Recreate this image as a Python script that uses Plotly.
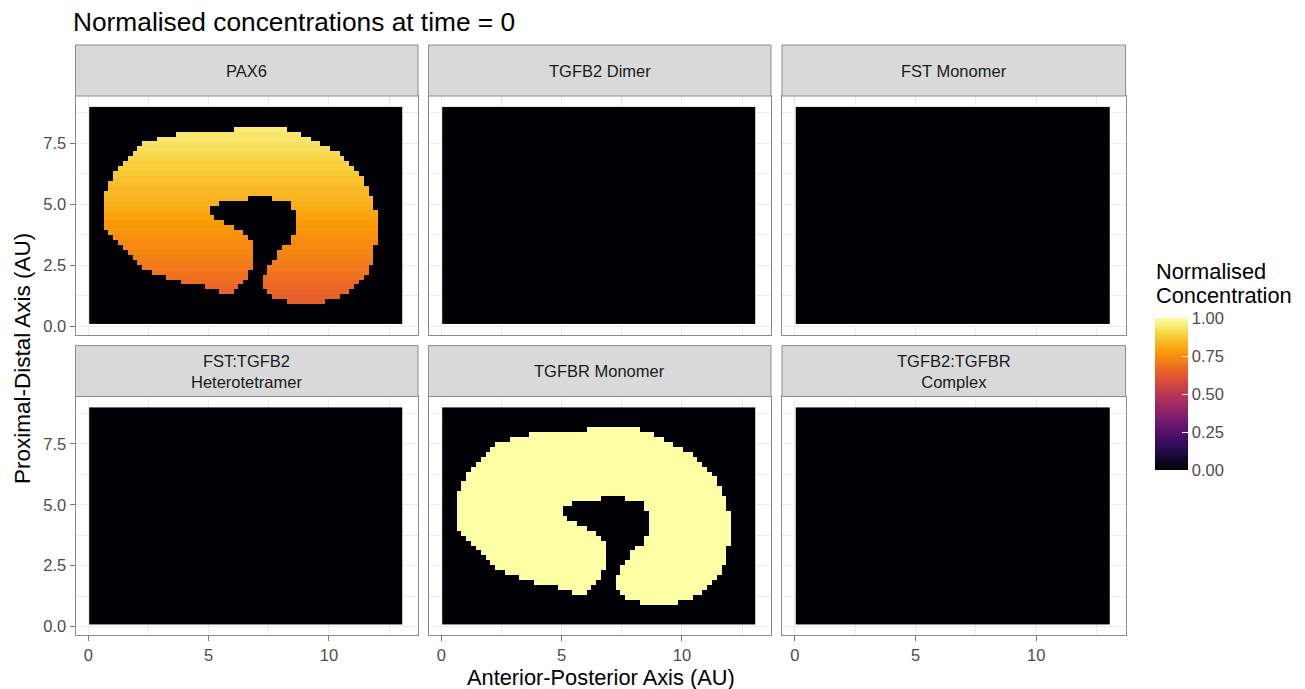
import numpy as np
import plotly.graph_objects as go
import plotly.express as px

W, H = 1305, 689

# ---------------- data ----------------
species = ["PAX6", "TGFB2 Dimer", "FST Monomer",
           "FST:TGFB2<br>Heterotetramer", "TGFBR Monomer", "TGFB2:TGFBR<br>Complex"]

# outline of the tissue domain (AU)
domain_x = [4.85, 3.40, 2.77, 2.22, 1.80, 1.32, 0.97, 0.76, 0.58, 0.58, 0.76, 1.04,
            1.46, 2.01, 2.77, 3.40, 4.02, 4.85, 5.40, 6.03, 6.44, 6.72, 6.83, 6.72,
            6.44, 6.03, 5.61, 5.20, 5.06, 5.20, 5.75, 6.44, 7.55, 8.31, 8.52, 8.63,
            8.63, 8.45, 8.10, 7.76, 7.52, 7.27, 7.25, 7.55, 7.97, 8.80, 9.35, 10.04,
            10.74, 11.29, 11.57, 11.84, 11.98, 11.98, 11.77, 11.50, 11.15, 10.74,
            10.33, 9.84, 9.22, 8.80, 8.25, 7.34, 6.10, 6.10]
domain_y = [8.04, 7.86, 7.68, 7.45, 7.04, 6.56, 6.08, 5.67, 5.26, 4.43, 3.95, 3.54,
            3.13, 2.58, 2.17, 1.96, 1.78, 1.62, 1.41, 1.41, 1.89, 2.24, 3.13, 3.54,
            3.88, 4.09, 4.22, 4.50, 4.77, 4.98, 5.12, 5.25, 5.29, 5.12, 4.77, 4.36,
            3.95, 3.54, 3.20, 2.85, 2.44, 1.96, 1.62, 1.28, 1.07, 0.86, 0.93, 1.07,
            1.34, 1.76, 2.24, 2.85, 3.54, 4.50, 5.32, 5.87, 6.35, 6.76, 7.11, 7.38,
            7.72, 7.93, 8.07, 8.23, 8.23, 8.04]

# simulation grid (AU)
grid_x0, grid_dx, grid_nx = 0.14, 0.2, 65
grid_y0, grid_dy, grid_ny = 0.2011, 0.2022, 44

pax6_by_row = [0.60, 0.61, 0.62, 0.63, 0.64, 0.64, 0.65, 0.66, 0.67, 0.68, 0.69,
               0.70, 0.71, 0.72, 0.73, 0.74, 0.74, 0.75, 0.76, 0.77, 0.78, 0.79,
               0.80, 0.81, 0.82, 0.83, 0.84, 0.84, 0.85, 0.86, 0.87, 0.88, 0.89,
               0.90, 0.91, 0.92, 0.93, 0.94, 0.94, 0.95, 0.96, 0.97, 0.98, 0.99]
# value inside the domain for the uniform species
inside_value = {"TGFB2 Dimer": 0.0, "FST Monomer": 0.0,
                "FST:TGFB2<br>Heterotetramer": 0.0, "TGFBR Monomer": 1.0,
                "TGFB2:TGFBR<br>Complex": 0.0}

x_ticks = [0, 5, 10]
y_ticks = [0.0, 2.5, 5.0, 7.5]
cbar_ticks = [0.0, 0.25, 0.50, 0.75, 1.00]

# ---------------- geometry ----------------
gx = grid_x0 + grid_dx * np.arange(grid_nx)
gy = grid_y0 + grid_dy * np.arange(grid_ny)
PX, PY = np.meshgrid(gx, gy)


def inside(px_, py_, vx, vy):
    vx = np.asarray(vx, float)
    vy = np.asarray(vy, float)
    res = np.zeros(px_.shape, bool)
    j = len(vx) - 1
    for i in range(len(vx)):
        xi, yi, xj, yj = vx[i], vy[i], vx[j], vy[j]
        if yi != yj:
            cond = ((yi > py_) != (yj > py_)) & (px_ < (xj - xi) * (py_ - yi) / (yj - yi) + xi)
            res ^= cond
        j = i
    return res


mask = inside(PX, PY, domain_x, domain_y)

# ---------------- layout helpers ----------------
cols = [(75.5, 418.0), (428.5, 771.0), (782.0, 1125.5)]
rows = [(96.0, 334.5), (396.5, 635.0)]
strips = [(45.0, 96.0), (345.5, 396.5)]
xr_ = [-0.53, 13.70]
yr_ = [-0.345, 9.445]

FONT = "Liberation Sans, Arial, Helvetica, sans-serif"
BORDER = "#8C8C8C"
GRID = "#EBEBEB"

fig = go.Figure()
shapes = []
annotations = []

for i, name in enumerate(species):
    r, c = divmod(i, 3)
    if name == "PAX6":
        z = np.where(mask, np.array(pax6_by_row)[:, None], 0.0)
    else:
        z = np.where(mask, inside_value[name], 0.0)
    fig.add_trace(go.Heatmap(z=z, x0=grid_x0, dx=grid_dx, y0=grid_y0, dy=grid_dy,
                             coloraxis="coloraxis", zsmooth=False, hoverinfo="skip",
                             xaxis=f"x{i+1}", yaxis=f"y{i+1}"))
    xl, xr = cols[c]
    pt, pb = rows[r]
    bottom = (r == 1)
    left = (c == 0)
    fig.layout[f"xaxis{i+1}"] = dict(
        domain=[xl / W, xr / W], range=xr_, anchor=f"y{i+1}",
        tickvals=x_ticks, showticklabels=bottom, ticks="outside" if bottom else "",
        ticklen=5, tickcolor="#777777", tickwidth=1,
        tickfont=dict(size=16.5, color="#4D4D4D", family=FONT),
        showgrid=True, gridcolor=GRID, gridwidth=1.2, zeroline=False,
        minor=dict(tickvals=[2.5, 7.5, 12.5], showgrid=True, gridcolor=GRID, gridwidth=0.6),
        showline=True, mirror=True, linecolor=BORDER, linewidth=1, fixedrange=True)
    fig.layout[f"yaxis{i+1}"] = dict(
        domain=[1 - pb / H, 1 - pt / H], range=yr_, anchor=f"x{i+1}",
        tickvals=y_ticks, tickformat=".1f", showticklabels=left,
        ticks="outside" if left else "", ticklen=5, tickcolor="#777777", tickwidth=1,
        tickfont=dict(size=16.5, color="#4D4D4D", family=FONT),
        showgrid=True, gridcolor=GRID, gridwidth=1.2, zeroline=False,
        minor=dict(tickvals=[1.25, 3.75, 6.25, 8.75], showgrid=True, gridcolor=GRID, gridwidth=0.6),
        showline=True, mirror=True, linecolor=BORDER, linewidth=1, fixedrange=True)
    st, sb = strips[r]
    shapes.append(dict(type="rect", xref="paper", yref="paper",
                       x0=xl / W, x1=xr / W, y0=1 - sb / H, y1=1 - st / H,
                       fillcolor="#D9D9D9", line=dict(color=BORDER, width=1), layer="above"))
    annotations.append(dict(text=name, xref="paper", yref="paper",
                            x=(xl + xr) / 2 / W, y=1 - (st + sb) / 2 / H,
                            xanchor="center", yanchor="middle", showarrow=False,
                            font=dict(size=16.5, color="#1A1A1A", family=FONT)))

annotations += [
    dict(text="Normalised concentrations at time = 0", xref="paper", yref="paper",
         x=71 / W, y=1 - 22 / H, xanchor="left", yanchor="middle", showarrow=False,
         font=dict(size=26.3, color="#000000", family=FONT)),
    dict(text="Anterior-Posterior Axis (AU)", xref="paper", yref="paper",
         x=600.5 / W, y=1 - 677 / H, xanchor="center", yanchor="middle", showarrow=False,
         font=dict(size=21.8, color="#000000", family=FONT)),
    dict(text="Proximal-Distal Axis (AU)", xref="paper", yref="paper",
         x=22 / W, y=1 - 359 / H, xanchor="center", yanchor="middle", showarrow=False,
         textangle=-90, font=dict(size=22.5, color="#000000", family=FONT)),
    dict(text="Normalised", xref="paper", yref="paper",
         x=1154 / W, y=1 - 272 / H, xanchor="left", yanchor="middle", showarrow=False,
         font=dict(size=21.8, color="#000000", family=FONT)),
    dict(text="Concentration", xref="paper", yref="paper",
         x=1154 / W, y=1 - 295 / H, xanchor="left", yanchor="middle", showarrow=False,
         font=dict(size=21.8, color="#000000", family=FONT)),
]

fig.update_layout(
    width=W, height=H, margin=dict(l=0, r=0, t=0, b=0),
    paper_bgcolor="white", plot_bgcolor="white", showlegend=False,
    font=dict(family=FONT),
    shapes=shapes, annotations=annotations,
    coloraxis=dict(
        colorscale=px.colors.sequential.Inferno, cmin=0, cmax=1,
        colorbar=dict(x=1155 / W, xanchor="left", xpad=0, y=1 - 394 / H, yanchor="middle",
                      ypad=0, len=152, lenmode="pixels", thickness=33, thicknessmode="pixels",
                      outlinewidth=0, tickmode="array", tickvals=cbar_ticks,
                      ticktext=[f"{v:.2f}" for v in cbar_ticks], ticks="inside",
                      tickcolor="white", ticklen=6, tickwidth=1,
                      tickfont=dict(size=16.5, color="#4D4D4D", family=FONT),
                      title=dict(text=""))),
)

fig.write_html("out.html", config={"displayModeBar": False},
               post_script="document.body.style.margin='0px';document.body.style.overflow='hidden';")
